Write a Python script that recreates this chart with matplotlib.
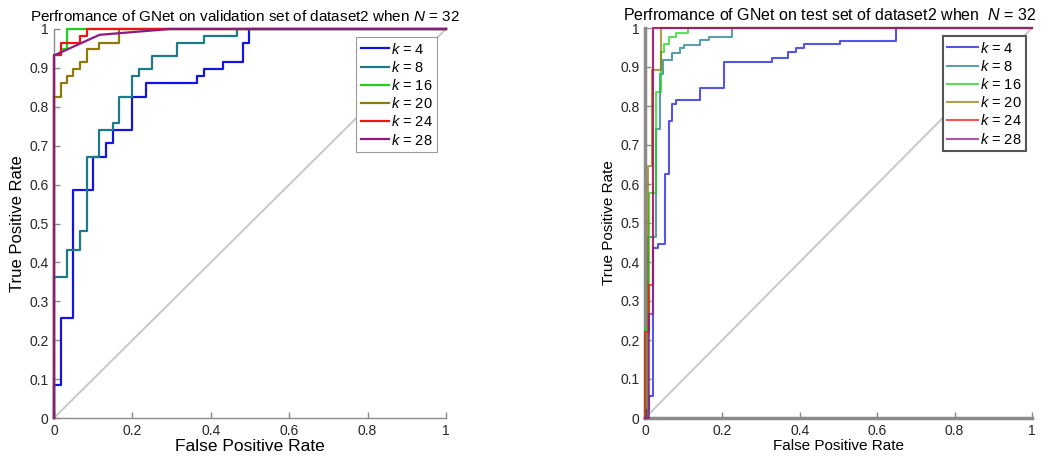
"""ROC curves of GNet on dataset2 (validation / test), N = 32."""

import matplotlib
matplotlib.use("Agg")
import matplotlib.pyplot as plt

plt.rcParams["font.family"] = ["Liberation Sans", "DejaVu Sans"]
plt.rcParams["mathtext.fontset"] = "custom"
plt.rcParams["mathtext.rm"] = "Liberation Sans"
plt.rcParams["mathtext.it"] = "Liberation Sans:italic"

K_LABELS = ["4", "8", "16", "20", "24", "28"]

# validation set: step-wise ROC points (fpr where tpr jumps, tpr level reached)
VAL_FPR = {
    "4":  [0, 0.018, 0.049, 0.10, 0.133, 0.15, 0.2, 0.234, 0.366, 0.383, 0.432, 0.483, 0.498, 1],
    "8":  [0, 0.032, 0.066, 0.083, 0.116, 0.15, 0.166, 0.2, 0.217, 0.251, 0.315, 0.383, 0.466, 1],
    "16": [0, 0.017, 0.034, 1],
    "20": [0, 0.017, 0.034, 0.049, 0.066, 0.083, 0.116, 0.166, 1],
    "24": [0, 0.017, 0.066, 0.083, 1],
    "28": [0, 0, 0.116, 0.296, 1],
}
VAL_TPR = {
    "4":  [0, 0.085, 0.258, 0.585, 0.671, 0.707, 0.741, 0.826, 0.862, 0.879, 0.897, 0.914, 0.965, 1],
    "8":  [0, 0.362, 0.431, 0.482, 0.672, 0.741, 0.758, 0.826, 0.879, 0.897, 0.931, 0.965, 0.983, 1],
    "16": [0, 0.932, 0.948, 1],
    "20": [0, 0.826, 0.862, 0.879, 0.897, 0.914, 0.948, 0.965, 1],
    "24": [0, 0.932, 0.965, 0.983, 1],
    "28": [0, 0.932, 0.985, 1, 1],
}
# k = 28 on validation set is interpolated (straight segments), not steps
VAL_DRAW = {"28": "default"}

TEST_FPR = {
    "4":  [0, 0.005, 0.01, 0.02, 0.033, 0.051, 0.062, 0.069, 0.079, 0.143, 0.205,
           0.329, 0.369, 0.391, 0.412, 0.503, 0.648, 1],
    "8":  [0, 0.008, 0.029, 0.039, 0.046, 0.07, 0.09, 0.1, 0.142, 0.165, 0.224, 1],
    "16": [0, 0.01, 0.029, 0.042, 0.05, 0.062, 0.081, 0.111, 1],
    "20": [0, 0.007, 0.019, 0.042, 1],
    "24": [0, 0.01, 0.02, 1],
    "28": [0, 0.011, 0.02, 1],
}
TEST_TPR = {
    "4":  [0, 0, 0.02, 0.057, 0.437, 0.446, 0.626, 0.762, 0.805, 0.816, 0.845,
           0.912, 0.922, 0.939, 0.949, 0.959, 0.967, 1],
    "8":  [0, 0, 0.465, 0.741, 0.882, 0.918, 0.937, 0.949, 0.957, 0.968, 0.978, 1],
    "16": [0, 0.23, 0.578, 0.837, 0.939, 0.96, 0.976, 0.987, 1],
    "20": [0, 0, 0.647, 0.892, 1],
    "24": [0, 0.22, 0.342, 1],
    "28": [0, 0, 0.267, 1],
}

COLORS = ["#1414e0", "#1f7a88", "#1ed21e", "#8c7a0a", "#f01414", "#8c1a82"]


def style_axes(ax, spine_w, spine_c, xlab_size, ylab_size):
    ax.set_xlim(0, 1)
    ax.set_ylim(0, 1)
    for s in ("top", "right"):
        ax.spines[s].set_visible(False)
    for s in ("left", "bottom"):
        ax.spines[s].set_linewidth(spine_w)
        ax.spines[s].set_color(spine_c)
    yt = [i / 10 for i in range(11)]
    xt = [i / 5 for i in range(6)]
    ax.set_yticks(yt)
    ax.set_yticklabels(["0"] + [f"{v:.1f}" for v in yt[1:-1]] + ["1"])
    ax.set_xticks(xt)
    ax.set_xticklabels(["0"] + [f"{v:.1f}" for v in xt[1:-1]] + ["1"])
    ax.tick_params(direction="in", length=4, width=1, color=spine_c,
                   labelsize=10, labelcolor="#262626", pad=4)
    ax.set_xlabel("False Positive Rate", fontsize=xlab_size, labelpad=1)
    ax.set_ylabel("True Positive Rate", fontsize=ylab_size, labelpad=3)
    ax.plot([0, 1], [0, 1], color="#c8c8c8", lw=1.4, zorder=1)


fig = plt.figure(figsize=(10.56, 4.66), dpi=100)
ax1 = fig.add_axes([54 / 1056, 1 - 418 / 466, 392 / 1056, 389 / 466])
ax2 = fig.add_axes([645 / 1056, 1 - 418 / 466, 387 / 1056, 390 / 466])

style_axes(ax1, 1.0, "#8a8a8a", 12.5, 12)
for k, c in zip(K_LABELS, COLORS):
    ax1.plot(VAL_FPR[k], VAL_TPR[k], drawstyle=VAL_DRAW.get(k, "steps-pre"),
             color=c, lw=1.6, clip_on=False, label=rf"$k$ = {k}", zorder=3)
ax1.set_title(r"Perfromance of GNet on validation set of dataset2 when $N$ = 32",
              fontsize=11, pad=6, x=0.487)
leg1 = ax1.legend(loc="upper right", bbox_to_anchor=(0.977, 0.979), borderaxespad=0,
                  fontsize=10.5, handlelength=1.9, handletextpad=0.15, labelspacing=0.22,
                  borderpad=0.3, fancybox=False, framealpha=1)
leg1.get_frame().set_edgecolor("#9a9a9a")
leg1.get_frame().set_linewidth(0.8)

style_axes(ax2, 2.5, "#8a8a8a", 11, 11)
for k, c in zip(K_LABELS, COLORS):
    ax2.plot(TEST_FPR[k], TEST_TPR[k], drawstyle="steps-pre", color=c, lw=1.5,
             alpha=0.72, clip_on=False, label=rf"$k$ = {k}", zorder=3)
ax2.set_title(r"Perfromance of GNet on test set of dataset2 when  $N$ = 32",
              fontsize=11.5, pad=6, x=0.476)
leg2 = ax2.legend(loc="upper right", bbox_to_anchor=(0.984, 0.979), borderaxespad=0,
                  fontsize=10.5, handlelength=2.1, handletextpad=0.1, labelspacing=0.22,
                  borderpad=0.3, fancybox=False, framealpha=1)
leg2.get_frame().set_edgecolor("#555555")
leg2.get_frame().set_linewidth(1.5)

fig.savefig("out.png", dpi=100)
